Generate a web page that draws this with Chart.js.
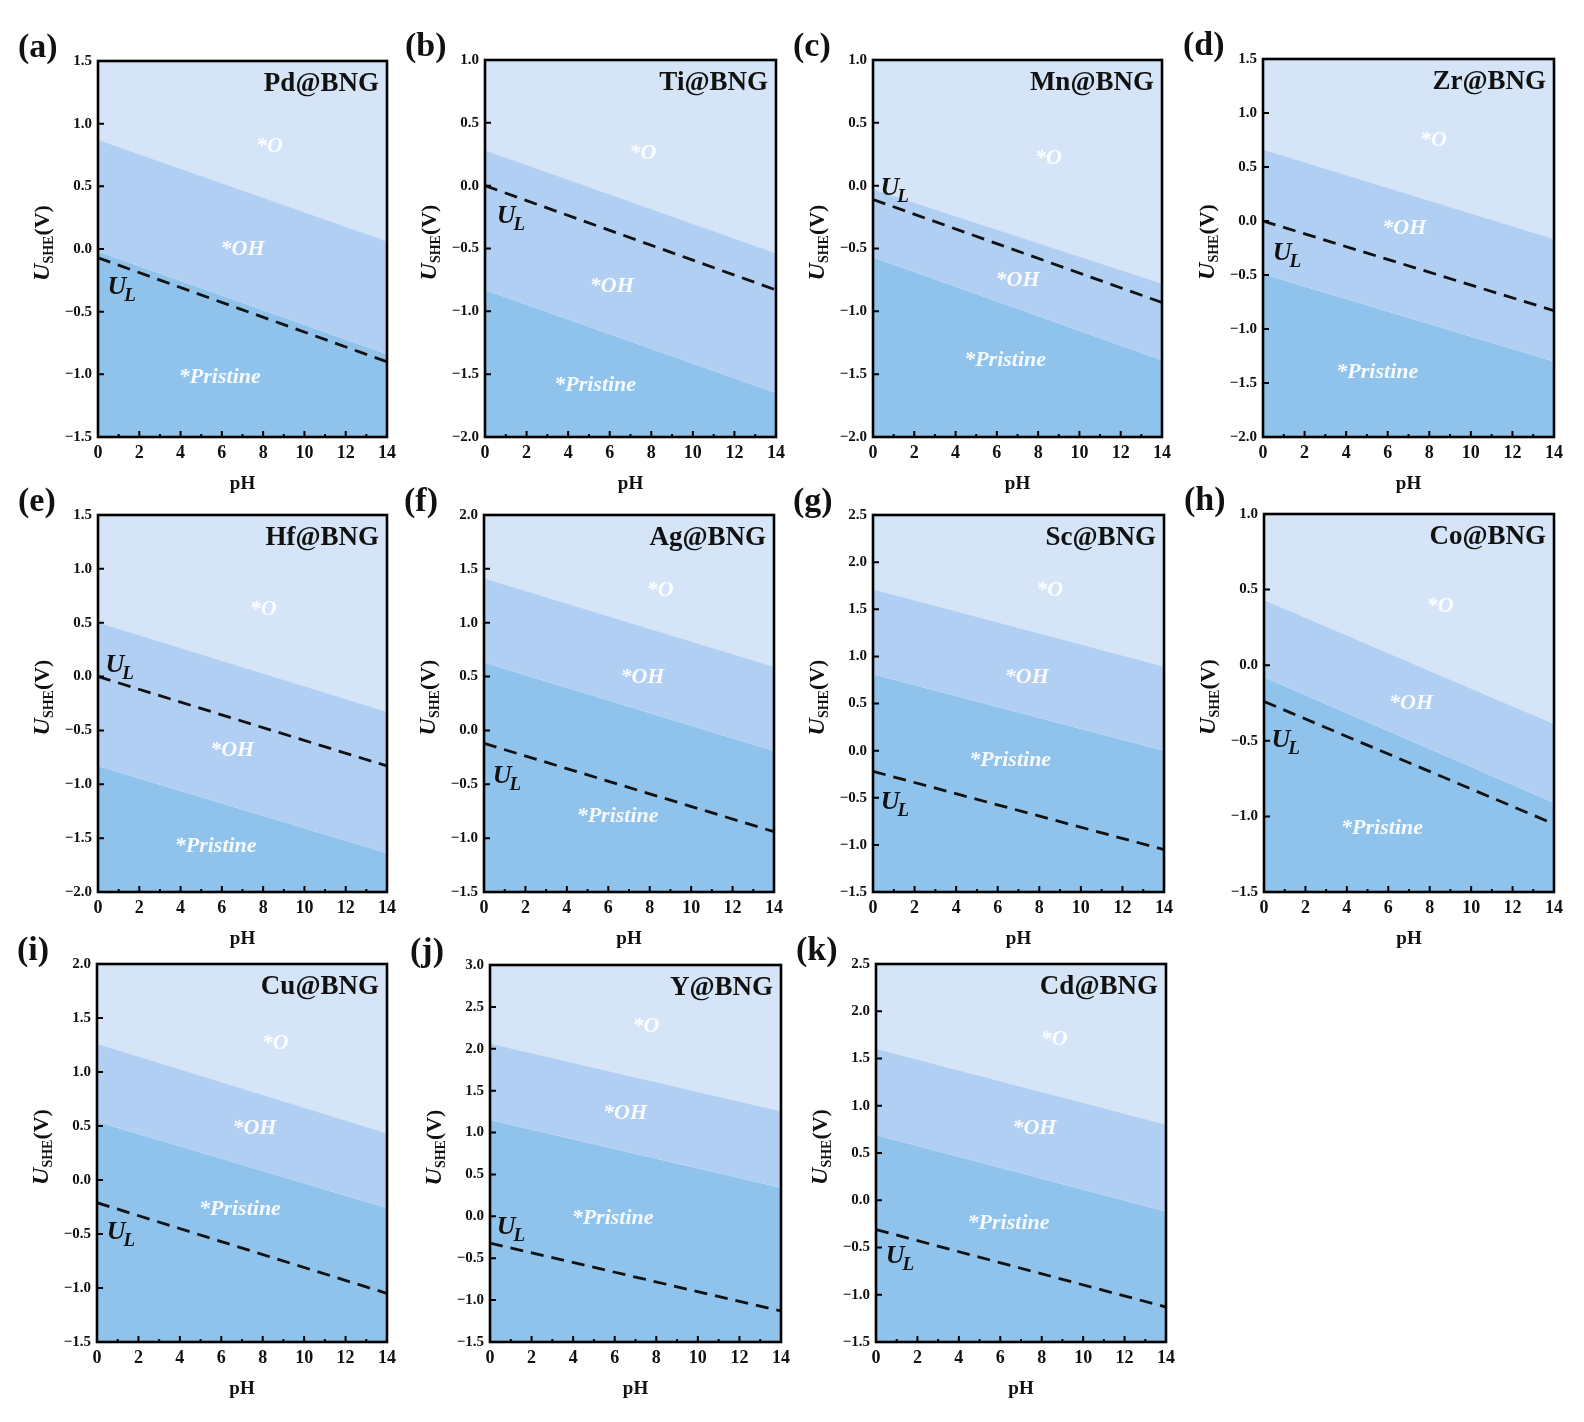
<!DOCTYPE html>
<html>
<head>
<meta charset="utf-8">
<script src="https://cdn.jsdelivr.net/npm/chart.js@4.4.0/dist/chart.umd.min.js"></script>
<style>
    body { margin: 0; background: #fff; width: 1584px; height: 1422px; position: relative; overflow: hidden; }
    canvas.panel { position: absolute; }
</style>
</head>
<body>
<script>
// ---- data ----
const panelLetters = ['(a)', '(b)', '(c)', '(d)', '(e)', '(f)', '(g)', '(h)', '(i)', '(j)', '(k)'];
const catalysts = ['Pd@BNG', 'Ti@BNG', 'Mn@BNG', 'Zr@BNG', 'Hf@BNG', 'Ag@BNG', 'Sc@BNG', 'Co@BNG', 'Cu@BNG', 'Y@BNG', 'Cd@BNG'];
const pHRange = [0, 14];
const xTickStep = 2;
const yTickStep = 0.5;
const yMins = [-1.5, -2.0, -2.0, -2.0, -2.0, -1.5, -1.5, -1.5, -1.5, -1.5, -1.5];
const yMaxs = [1.5, 1.0, 1.0, 1.5, 1.5, 2.0, 2.5, 1.0, 2.0, 3.0, 2.5];
// boundary potentials at pH 0 and pH 14
const oBoundary = [[0.87, 0.06], [0.28, -0.54], [-0.03, -0.78], [0.66, -0.17], [0.50, -0.33], [1.41, 0.59], [1.71, 0.89], [0.43, -0.39], [1.26, 0.43], [2.06, 1.25], [1.60, 0.80]];
const ohBoundary = [[-0.02, -0.84], [-0.83, -1.65], [-0.57, -1.39], [-0.49, -1.30], [-0.83, -1.64], [0.63, -0.19], [0.81, 0.0], [-0.08, -0.91], [0.54, -0.26], [1.15, 0.34], [0.69, -0.12]];
const ulLine = [[-0.07, -0.90], [0.0, -0.83], [-0.11, -0.93], [0.0, -0.83], [0.0, -0.83], [-0.12, -0.94], [-0.22, -1.05], [-0.24, -1.05], [-0.21, -1.05], [-0.32, -1.13], [-0.31, -1.13]];

// where the region names sit, in (pH, V)
const labelSpots = [
    { o: [8.3, 0.82], oh: [7.0, 0.0], pri: [5.9, -1.02], ul: [1.2, -0.31] },
    { o: [7.6, 0.26], oh: [6.1, -0.80], pri: [5.3, -1.59], ul: [1.3, -0.25] },
    { o: [8.5, 0.22], oh: [7.0, -0.75], pri: [6.4, -1.39], ul: [1.1, -0.03] },
    { o: [8.2, 0.75], oh: [6.8, -0.07], pri: [5.5, -1.40], ul: [1.2, -0.31] },
    { o: [8.0, 0.62], oh: [6.5, -0.68], pri: [5.7, -1.58], ul: [1.1, 0.10] },
    { o: [8.5, 1.30], oh: [7.65, 0.49], pri: [6.45, -0.80], ul: [1.15, -0.43] },
    { o: [8.5, 1.70], oh: [7.4, 0.78], pri: [6.6, -0.10], ul: [1.1, -0.56] },
    { o: [8.5, 0.39], oh: [7.1, -0.25], pri: [5.7, -1.08], ul: [1.1, -0.50] },
    { o: [8.6, 1.27], oh: [7.6, 0.48], pri: [6.9, -0.27], ul: [1.2, -0.49] },
    { o: [7.5, 2.27], oh: [6.5, 1.23], pri: [5.9, -0.02], ul: [1.05, -0.14] },
    { o: [8.6, 1.70], oh: [7.65, 0.76], pri: [6.4, -0.24], ul: [1.2, -0.60] }
];

// plot boxes on the page: left, top, width, height
const boxes = [
    [98, 61, 290, 376], [485, 60, 292, 377], [873, 60, 290, 377], [1263, 59, 292, 378],
    [98, 515, 290, 377], [484, 515, 291, 377], [873, 515, 292, 377], [1264, 514, 291, 378],
    [97, 964, 291, 378], [490, 965, 292, 377], [876, 964, 291, 378]
];

const M = { left: 95, top: 45, right: 14, bottom: 68 };
const SERIF = '"Liberation Serif", "Times New Roman", serif';
const LIGHT = '#d5e5f7';
const MID = '#b1cef3';
const DARK = '#8fc3ec';

function fmtTick(v) {
    const s = Math.abs(v).toFixed(1);
    return v < -1e-9 ? '\u2212' + s : s;
}

function linePoints(pair) {
    return [{ x: pHRange[0], y: pair[0] }, { x: pHRange[1], y: pair[1] }];
}

const decorPlugin = {
    id: 'decor',
    afterDatasetsDraw(chart) {
        const i = chart.options.panelIndex;
        const ctx = chart.ctx;
        const xs = chart.scales.x, ys = chart.scales.y;
        const spot = labelSpots[i];
        ctx.save();
        // region names
        ctx.fillStyle = 'rgba(255,255,255,0.92)';
        ctx.font = 'italic bold 22px ' + SERIF;
        ctx.textAlign = 'center';
        ctx.textBaseline = 'middle';
        ctx.fillText('*O', xs.getPixelForValue(spot.o[0]), ys.getPixelForValue(spot.o[1]));
        ctx.fillText('*OH', xs.getPixelForValue(spot.oh[0]), ys.getPixelForValue(spot.oh[1]));
        ctx.fillText('*Pristine', xs.getPixelForValue(spot.pri[0]), ys.getPixelForValue(spot.pri[1]));

        // U_L label
        const cx = xs.getPixelForValue(spot.ul[0]);
        const cy = ys.getPixelForValue(spot.ul[1]);
        ctx.fillStyle = '#111';
        ctx.textAlign = 'left';
        ctx.textBaseline = 'alphabetic';
        ctx.font = 'italic bold 26px ' + SERIF;
        const wU = ctx.measureText('U').width;
        ctx.font = 'italic bold 19px ' + SERIF;
        const wL = ctx.measureText('L').width;
        const x0 = cx - (wU + wL) / 2;
        ctx.font = 'italic bold 26px ' + SERIF;
        ctx.fillText('U', x0, cy + 6);
        ctx.font = 'italic bold 19px ' + SERIF;
        ctx.fillText('L', x0 + wU - 2, cy + 13);

        // inward ticks
        const a = chart.chartArea;
        ctx.strokeStyle = '#000';
        ctx.lineWidth = 2;
        ctx.beginPath();
        for (let v = pHRange[0]; v <= pHRange[1]; v += 1) {
            const px = xs.getPixelForValue(v);
            const len = v % xTickStep === 0 ? 6 : 3;
            ctx.moveTo(px, a.bottom);
            ctx.lineTo(px, a.bottom - len);
        }
        const nY = Math.round((yMaxs[i] - yMins[i]) / yTickStep);
        for (let k = 0; k <= nY; k++) {
            const py = ys.getPixelForValue(yMins[i] + k * yTickStep);
            ctx.moveTo(a.left, py);
            ctx.lineTo(a.left + 6, py);
        }
        ctx.stroke();

        // frame
        ctx.lineWidth = 2.6;
        ctx.strokeRect(a.left, a.top, a.right - a.left, a.bottom - a.top);

        // catalyst name
        ctx.fillStyle = '#111';
        ctx.font = 'bold 27px ' + SERIF;
        ctx.textAlign = 'right';
        ctx.textBaseline = 'middle';
        ctx.fillText(catalysts[i], a.right - 8, a.top + 23);

        // panel letter
        ctx.font = 'bold 34px ' + SERIF;
        ctx.textAlign = 'left';
        ctx.fillText(panelLetters[i], a.left - 80, a.top - 13);

        // y axis title U_SHE(V)
        ctx.translate(a.left - 57, (a.top + a.bottom) / 2 - 6);
        ctx.rotate(-Math.PI / 2);
        ctx.textBaseline = 'alphabetic';
        ctx.font = 'italic bold 24px ' + SERIF;
        const w1 = ctx.measureText('U').width;
        ctx.font = 'bold 14px ' + SERIF;
        const w2 = ctx.measureText('SHE').width;
        ctx.font = 'bold 22px ' + SERIF;
        const w3 = ctx.measureText('(V)').width;
        let tx = -(w1 + w2 + w3) / 2;
        ctx.font = 'italic bold 24px ' + SERIF;
        ctx.fillText('U', tx, 8);
        tx += w1;
        ctx.font = 'bold 14px ' + SERIF;
        ctx.fillText('SHE', tx, 12);
        tx += w2;
        ctx.font = 'bold 22px ' + SERIF;
        ctx.fillText('(V)', tx, 8);
        ctx.restore();
    }
};

boxes.forEach((b, i) => {
    const canvas = document.createElement('canvas');
    canvas.className = 'panel';
    const W = b[2] + M.left + M.right;
    const H = b[3] + M.top + M.bottom;
    canvas.width = W;
    canvas.height = H;
    canvas.style.left = (b[0] - M.left) + 'px';
    canvas.style.top = (b[1] - M.top) + 'px';
    canvas.style.width = W + 'px';
    canvas.style.height = H + 'px';
    document.body.appendChild(canvas);

    // lower "order" is drawn on top: dashed U_L last, light *O fill over the *OH fill
    new Chart(canvas.getContext('2d'), {
        type: 'line',
        data: {
            datasets: [
                { order: 1, data: linePoints(oBoundary[i]), fill: 'end', backgroundColor: LIGHT, borderWidth: 0, borderColor: 'rgba(0,0,0,0)', pointRadius: 0 },
                { order: 2, data: linePoints(ohBoundary[i]), fill: 'end', backgroundColor: MID, borderWidth: 0, borderColor: 'rgba(0,0,0,0)', pointRadius: 0 },
                { order: 3, data: linePoints(ohBoundary[i]), fill: 'start', backgroundColor: DARK, borderWidth: 0, borderColor: 'rgba(0,0,0,0)', pointRadius: 0 },
                { order: 0, data: linePoints(ulLine[i]), fill: false, borderColor: '#111', borderWidth: 2.8, borderDash: [13, 8], pointRadius: 0 }
            ]
        },
        options: {
            panelIndex: i,
            responsive: false,
            devicePixelRatio: 1,
            animation: false,
            events: [],
            layout: { padding: { left: 0, top: M.top, right: M.right, bottom: 0 } },
            plugins: { legend: { display: false }, tooltip: { enabled: false } },
            scales: {
                x: {
                    type: 'linear',
                    min: pHRange[0],
                    max: pHRange[1],
                    grid: { display: false, drawTicks: false },
                    border: { display: false },
                    ticks: { stepSize: xTickStep, padding: 6, color: '#111', font: { family: SERIF, size: 18, weight: 'bold' } },
                    title: { display: true, text: 'pH', color: '#111', font: { family: SERIF, size: 19, weight: 'bold' }, padding: { top: 0, bottom: 10 } },
                    afterFit(scale) { scale.height = M.bottom; }
                },
                y: {
                    min: yMins[i],
                    max: yMaxs[i],
                    grid: { display: false, drawTicks: false },
                    border: { display: false },
                    ticks: { stepSize: yTickStep, padding: 6, color: '#111', font: { family: SERIF, size: 15, weight: 'bold' }, callback: v => fmtTick(v) },
                    afterFit(scale) { scale.width = M.left; }
                }
            }
        },
        plugins: [decorPlugin]
    });
});
</script>
</body>
</html>
